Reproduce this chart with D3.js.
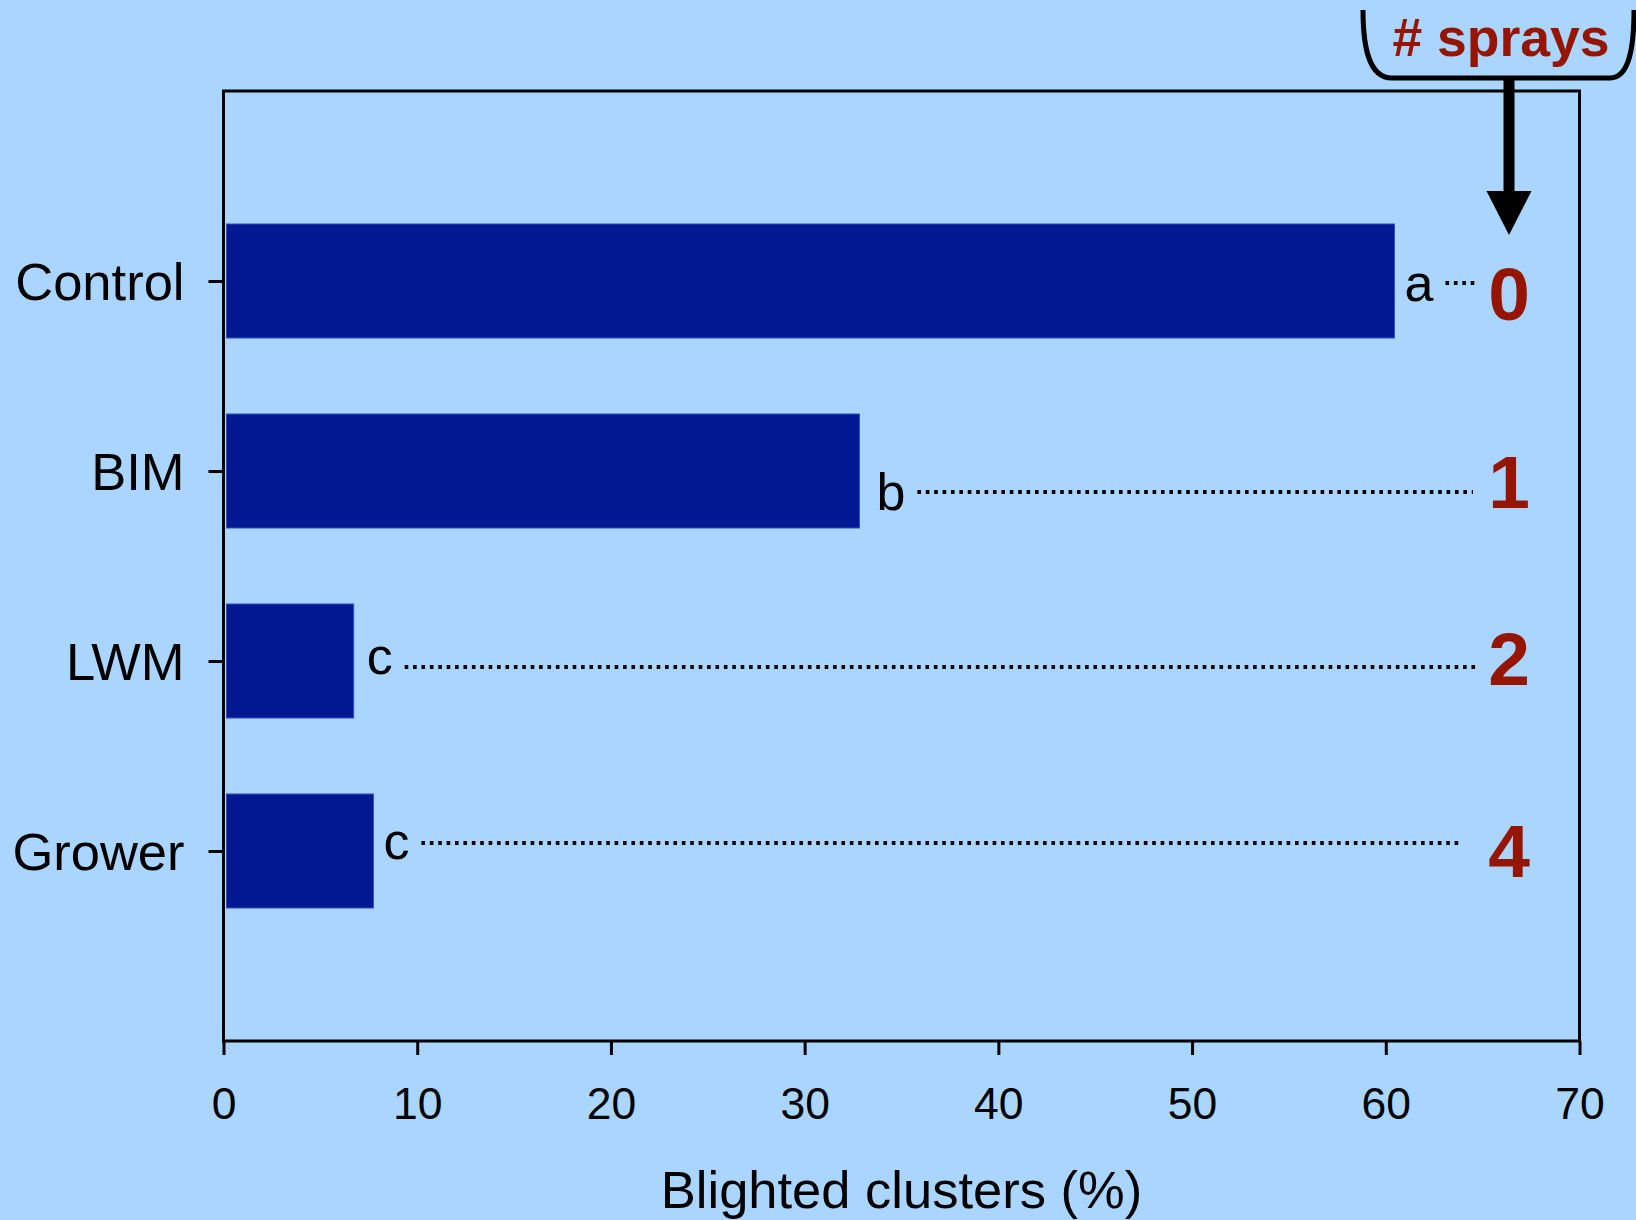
<!DOCTYPE html>
<html>
<head>
<meta charset="utf-8">
<script src="https://cdn.jsdelivr.net/npm/d3@7"></script>
<style>
  html, body { margin: 0; padding: 0; background: #a9d5fe; }
  svg { display: block; }
  text { font-family: "Liberation Sans", Arial, Helvetica, sans-serif; }
</style>
</head>
<body>
<svg id="chart" width="1636" height="1220"></svg>
<script>
// ---- data ----
const categories = ["Control", "BIM", "LWM", "Grower"];
const blighted = [60.45, 32.83, 6.72, 7.74];
const letters = ["a", "b", "c", "c"];
const sprays = ["0", "1", "2", "4"];
const xTicks = [0, 10, 20, 30, 40, 50, 60, 70];
const xTitle = "Blighted clusters (%)";
const spraysTitle = "# sprays";

// ---- layout (annotation placement, px) ----
const letterGap = [10, 17, 13, 10];
const letterDy = [20, 39, 13, 8];
const lineDy = [2, 21, 6, -8];
const lineEndX = [1477, 1473, 1476, 1461];
const numberDy = [39, 37, 24, 26];

const W = 1636, H = 1220;
const mLeft = 223.5, mRight = 1579.5, mTop = 91, mBottom = 1041;

const svg = d3.select("#chart");
svg.append("rect").attr("width", W).attr("height", H).attr("fill", "#a9d5fe");

const x = d3.scaleLinear().domain([0, 70]).range([mLeft, mRight]);
const y = d3.scalePoint().domain(categories).range([mTop, mBottom]).padding(1);
const barH = y.step() * 0.6;

const rows = categories.map((c, i) => ({ c, v: blighted[i], l: letters[i], s: sprays[i], i }));

// bars
svg.append("g").selectAll("rect").data(rows).join("rect")
  .attr("x", x(0) + 3)
  .attr("y", d => y(d.c) - barH / 2)
  .attr("width", d => x(d.v) - x(0) - 3)
  .attr("height", barH)
  .attr("fill", "#021892")
  .attr("stroke", "#2f4fc0")
  .attr("stroke-width", 1);

// x axis
const gx = svg.append("g").attr("transform", `translate(0,${mBottom})`)
  .call(d3.axisBottom(x).tickValues(xTicks).tickSize(14).tickPadding(32).tickSizeOuter(0));
gx.select(".domain").remove();
gx.selectAll(".tick line").attr("stroke", "#000").attr("stroke-width", 3);
gx.selectAll(".tick text").attr("font-size", 44.5).attr("fill", "#000")
  .style("font-family", '"Liberation Sans", Arial, sans-serif');

// y axis
const gy = svg.append("g").attr("transform", `translate(${mLeft},0)`)
  .call(d3.axisLeft(y).tickSize(15).tickPadding(24).tickSizeOuter(0));
gy.select(".domain").remove();
gy.selectAll(".tick line").attr("stroke", "#000").attr("stroke-width", 3);
gy.selectAll(".tick text").attr("font-size", 52.5).attr("fill", "#000").attr("dy", "0.35em")
  .style("font-family", '"Liberation Sans", Arial, sans-serif');

// frame
svg.append("rect")
  .attr("x", mLeft).attr("y", mTop)
  .attr("width", mRight - mLeft).attr("height", mBottom - mTop)
  .attr("fill", "none").attr("stroke", "#000").attr("stroke-width", 3);

// significance letters
const lt = svg.append("g").selectAll("text").data(rows).join("text")
  .attr("x", d => x(d.v) + letterGap[d.i])
  .attr("y", d => y(d.c) + letterDy[d.i])
  .attr("font-size", 52)
  .attr("fill", "#000")
  .text(d => d.l);

// dotted leader lines
lt.each(function (d) {
  const bb = this.getBBox();
  svg.append("line")
    .attr("x1", bb.x + bb.width + 12)
    .attr("x2", lineEndX[d.i])
    .attr("y1", y(d.c) + lineDy[d.i])
    .attr("y2", y(d.c) + lineDy[d.i])
    .attr("stroke", "#000")
    .attr("stroke-width", 4)
    .attr("stroke-dasharray", "3.6,4.8");
});

// spray numbers
const numX = 1509;
svg.append("g").selectAll("text").data(rows).join("text")
  .attr("x", numX)
  .attr("y", d => y(d.c) + numberDy[d.i])
  .attr("text-anchor", "middle")
  .attr("font-size", 75)
  .attr("font-weight", "bold")
  .attr("fill", "#961500")
  .text(d => d.s);

// "# sprays" header with bracket and arrow
svg.append("path")
  .attr("d", "M1363,10 C1363,45 1368,78 1392,78 L1610,78 C1630,78 1634,45 1634,10")
  .attr("fill", "none").attr("stroke", "#000").attr("stroke-width", 5);
svg.append("text")
  .attr("x", 1501).attr("y", 56)
  .attr("text-anchor", "middle")
  .attr("font-size", 53.5).attr("font-weight", "bold")
  .attr("fill", "#961500")
  .text(spraysTitle);
svg.append("rect")
  .attr("x", numX - 5.5).attr("y", 77).attr("width", 11).attr("height", 116)
  .attr("fill", "#000");
svg.append("path")
  .attr("d", `M${numX - 22.5},191 L${numX + 22.5},191 L${numX},235 Z`)
  .attr("fill", "#000");

// x axis title
svg.append("text")
  .attr("x", (mLeft + mRight) / 2).attr("y", 1208)
  .attr("text-anchor", "middle")
  .attr("font-size", 52.5).attr("fill", "#000")
  .text(xTitle);
</script>
</body>
</html>
